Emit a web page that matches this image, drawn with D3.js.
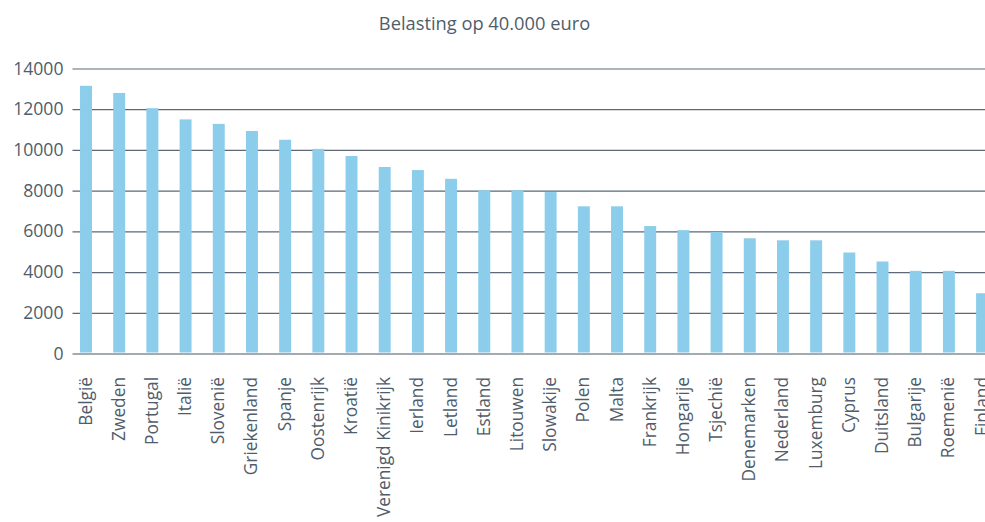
<!DOCTYPE html>
<html>
<head>
<meta charset="utf-8">
<script src="https://cdn.jsdelivr.net/npm/d3@7"></script>
<style>
  body { margin: 0; background: #fff; overflow: hidden; }
  svg { display: block; font-family: "Open Sans", sans-serif; }
</style>
</head>
<body>
<div id="container"></div>
<script>
/* CONSTANTS AND GLOBALS */
const width = 985,
  height = 522,
  margin = { top: 68.5, bottom: 168.5, left: 72.5, right: 0 };

/* DATA */
const countries = ["België", "Zweden", "Portugal", "Italië", "Slovenië", "Griekenland", "Spanje",
  "Oostenrijk", "Kroatië", "Verenigd Kinikrijk", "Ierland", "Letland", "Estland", "Litouwen",
  "Slowakije", "Polen", "Malta", "Frankrijk", "Hongarije", "Tsjechië", "Denemarken", "Nederland",
  "Luxemburg", "Cyprus", "Duitsland", "Bulgarije", "Roemenië", "Finland"];
const belasting = [13150, 12800, 12050, 11500, 11280, 10930, 10500,
  10050, 9700, 9160, 9010, 8580, 8020, 8020,
  7930, 7230, 7230, 6260, 6060, 5970, 5660, 5560,
  5560, 4960, 4520, 4060, 4060, 2960];
const yTicks = [0, 2000, 4000, 6000, 8000, 10000, 12000, 14000];
const title = "Belasting op 40.000 euro";

const data = countries.map((c, i) => ({ country: c, value: belasting[i] }));

// SCALES
const xScale = d3.scaleBand()
  .domain(countries)
  .range([58.8, 1009.3])
  .padding(0.64);

const yScale = d3.scaleLinear()
  .domain([0, 14000])
  .range([height - margin.bottom, margin.top]);

// CREATE SVG ELEMENT
const svg = d3.select("#container")
  .append("svg")
  .attr("width", width)
  .attr("height", height);

// TITLE
svg.append("text")
  .attr("x", 484.5)
  .attr("y", 29.5)
  .attr("text-anchor", "middle")
  .attr("fill", "#4f5d6b")
  .style("font-size", "18.3px")
  .text(title);

// GRIDLINES + Y AXIS
const yAxis = d3.axisLeft(yScale)
  .tickValues(yTicks)
  .tickFormat(d => d)
  .tickSize(-(width - margin.left))
  .tickPadding(9);

const yAxisGroup = svg.append("g")
  .attr("class", "yAxis")
  .attr("transform", `translate(${margin.left}, 0)`)
  .call(yAxis);

yAxisGroup.select(".domain").remove();
yAxisGroup.selectAll(".tick line")
  .attr("stroke", d => d === 0 ? "#a5aab0" : "#5d6976")
  .attr("stroke-width", d => d === 0 ? 2 : 1.2);
yAxisGroup.selectAll(".tick text")
  .attr("fill", "#4f5d6b")
  .style("font-size", "17.6px")
  .style("font-family", "'Open Sans', sans-serif");

// BARS
svg.selectAll(".bar")
  .data(data)
  .join("rect")
  .attr("class", "bar")
  .attr("x", d => xScale(d.country))
  .attr("width", xScale.bandwidth())
  .attr("y", d => yScale(d.value))
  .attr("height", d => yScale(0) - yScale(d.value) - 1)
  .attr("fill", "#8bcdeb");

// X LABELS
svg.selectAll(".xLabel")
  .data(data)
  .join("text")
  .attr("class", "xLabel")
  .attr("transform", d => `translate(${xScale(d.country) + xScale.bandwidth() / 2 + 5.5}, 377) rotate(-90)`)
  .attr("text-anchor", "end")
  .attr("fill", "#4f5d6b")
  .style("font-size", "17.3px")
  .text(d => d.country);
</script>
</body>
</html>
